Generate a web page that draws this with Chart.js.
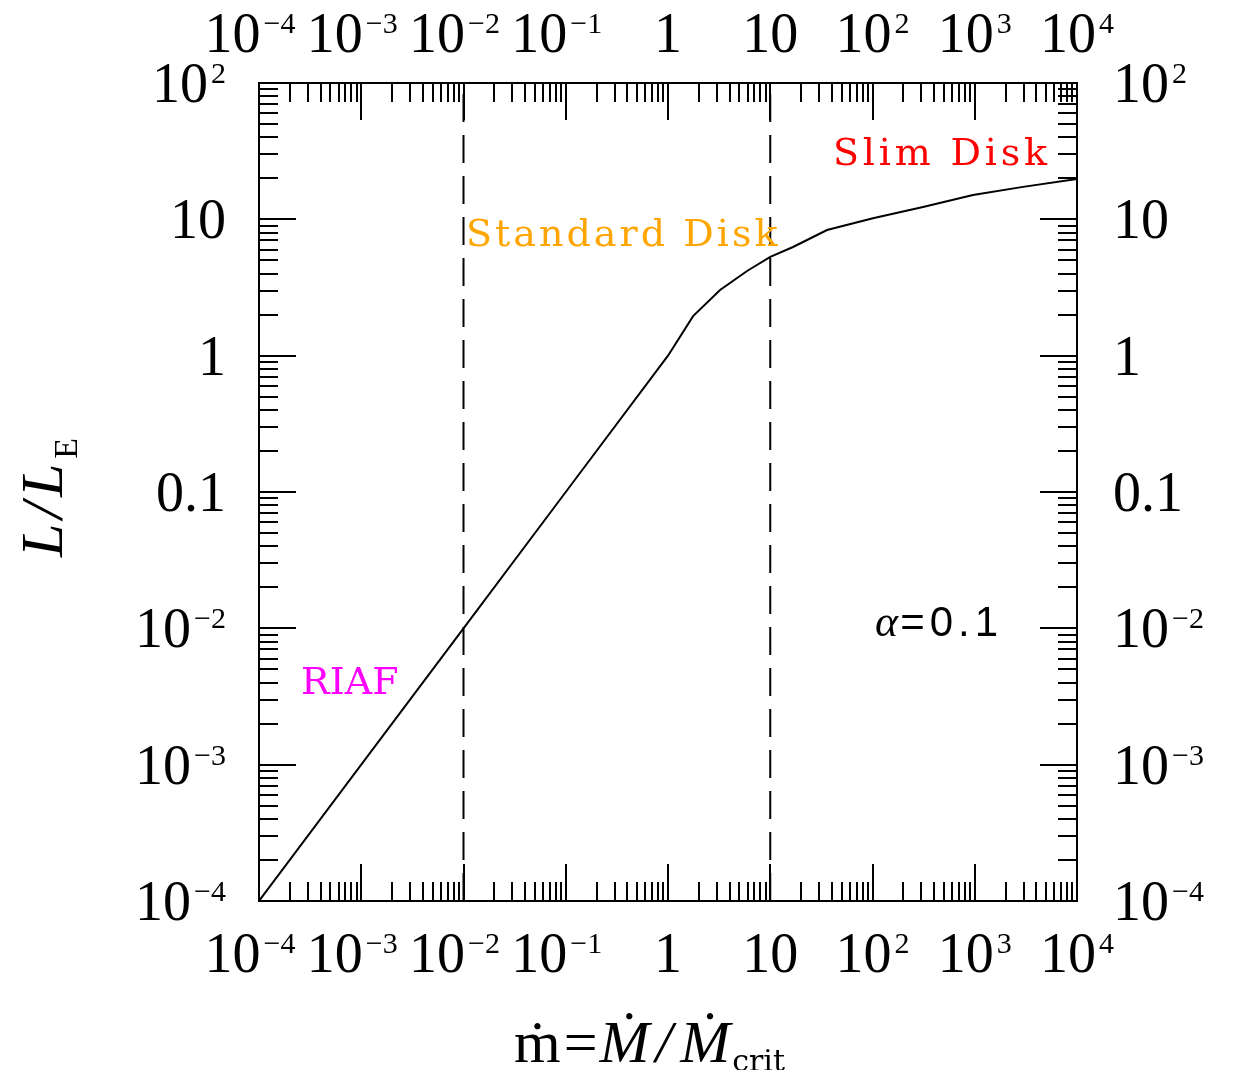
<!DOCTYPE html>
<html>
<head>
<meta charset="utf-8">
<script src="https://cdn.jsdelivr.net/npm/chart.js@4.4.0/dist/chart.umd.min.js"></script>
<style>
body { margin:0; background:#fff; }
#wrap { width:1236px; height:1070px; }
</style>
</head>
<body>
<div id="wrap"><canvas id="myChart"></canvas></div>
<script>
// accretion rate (mdot) vs luminosity
var mdot = [1e-4, 1e-3, 1e-2, 1e-1, 1, 1.76, 3.23, 5.93, 10, 16.7, 35.9, 101, 312, 961, 2965, 1e4]
var lum  = [1e-4, 1e-3, 1e-2, 1e-1, 1, 1.95, 3.03, 4.18, 5.3, 6.27, 8.35, 10.2, 12.3, 15.1, 17.3, 19.8]

// regime boundaries (dashed)
var boundaries = [1e-2, 10]

var xTicks = [1e-4, 1e-3, 1e-2, 1e-1, 1, 10, 100, 1000, 1e4]
var xTickLabels = [['10','\u22124'],['10','\u22123'],['10','\u22122'],['10','\u22121'],['1',''],['10',''],['10','2'],['10','3'],['10','4']]
var yTicks = [1e-4, 1e-3, 1e-2, 0.1, 1, 10, 100]
var yTickLabels = [['10','\u22124'],['10','\u22123'],['10','\u22122'],['0.1',''],['1',''],['10',''],['10','2']]

// region labels [text, mdot, L/LE, colour]
var notes = [
  ['RIAF', 2.64e-4, 3.3e-3, '#ff00ff'],
  ['Standard Disk', 0.0108, 6.38, '#ffa500'],
  ['Slim Disk', 42, 25, '#ff0000']
]
var alphaNote = [106, 8.8e-3]

var curve = []
for (var i = 0; i < mdot.length; i++) {
    curve.push({x: mdot[i], y: lum[i]})
}

var datasets = [{
    data: curve,
    borderColor: '#000',
    borderWidth: 2,
    pointRadius: 0,
    showLine: true,
    tension: 0
}]
for (var i = 0; i < boundaries.length; i++) {
    datasets.push({
        data: [{x: boundaries[i], y: yTicks[0]}, {x: boundaries[i], y: yTicks[yTicks.length-1]}],
        borderColor: '#000',
        borderWidth: 2,
        borderDash: [28, 13],
        pointRadius: 0,
        showLine: true
    })
}

var SERIF = '"Liberation Serif", "DejaVu Serif", serif'

// draws "10" with a raised exponent
function sci(ctx, lab, x, y, align) {
    ctx.font = '56px ' + SERIF
    var w1 = ctx.measureText(lab[0]).width
    ctx.font = '30px ' + SERIF
    var w2 = lab[1] ? ctx.measureText(lab[1]).width + 3 : 0
    var x0 = x
    if (align == 'center') {
        x0 = x - (w1 + w2) / 2
        if (lab[1].charAt(0) == '\u2212') x0 -= 9
    }
    if (align == 'right') x0 = x - w1 - w2
    ctx.textAlign = 'left'
    ctx.font = '56px ' + SERIF
    ctx.fillText(lab[0], x0, y)
    if (lab[1]) {
        ctx.font = '30px ' + SERIF
        ctx.fillText(lab[1], x0 + w1 + 3, y - 19)
    }
}

// spread text so it takes about cell px per character
function spaced(ctx, s, x, y, cell, font) {
    ctx.font = font
    ctx.letterSpacing = '0px'
    var w = ctx.measureText(s).width
    var sp = (cell * s.length - w) / s.length
    ctx.letterSpacing = Math.max(0, sp) + 'px'
    ctx.textAlign = 'left'
    ctx.fillText(s, x, y)
    ctx.letterSpacing = '0px'
    return x + w + sp * s.length
}

var frame = {
    id: 'frame',
    afterDraw: function(chart) {
        var ctx = chart.ctx, a = chart.chartArea
        var xs = chart.scales.x, ys = chart.scales.y
        ctx.save()
        ctx.strokeStyle = '#000'
        ctx.fillStyle = '#000'
        ctx.lineWidth = 2
        ctx.strokeRect(a.left, a.top, a.right - a.left, a.bottom - a.top)

        // inward log ticks on all four sides
        ctx.beginPath()
        for (var i = 0; i < xTicks.length - 1; i++) {
            for (var k = 1; k < 10; k++) {
                var px = Math.round(xs.getPixelForValue(k * xTicks[i]))
                var len = k == 1 ? 37 : 19
                ctx.moveTo(px, a.bottom); ctx.lineTo(px, a.bottom - len)
                ctx.moveTo(px, a.top); ctx.lineTo(px, a.top + len)
            }
        }
        for (var i = 0; i < yTicks.length - 1; i++) {
            for (var k = 1; k < 10; k++) {
                var py = Math.round(ys.getPixelForValue(k * yTicks[i]))
                var len = k == 1 ? 37 : 19
                ctx.moveTo(a.left, py); ctx.lineTo(a.left + len, py)
                ctx.moveTo(a.right, py); ctx.lineTo(a.right - len, py)
            }
        }
        ctx.stroke()

        ctx.textBaseline = 'alphabetic'
        for (var i = 0; i < xTicks.length; i++) {
            var px = xs.getPixelForValue(xTicks[i])
            sci(ctx, xTickLabels[i], px, a.bottom + 71, 'center')
            sci(ctx, xTickLabels[i], px, a.top - 31, 'center')
        }
        for (var i = 0; i < yTicks.length; i++) {
            var py = ys.getPixelForValue(yTicks[i])
            sci(ctx, yTickLabels[i], a.left - 33, py + 19, 'right')
            sci(ctx, yTickLabels[i], a.right + 36, py + 19, 'left')
        }

        // axis titles
        var x0 = 514, yb = 1062
        ctx.textAlign = 'left'
        ctx.font = '60px ' + SERIF
        ctx.fillText('\u1e41', x0, yb); x0 += ctx.measureText('\u1e41').width + 3
        ctx.fillText('=', x0, yb); x0 += ctx.measureText('=').width + 2
        ctx.font = 'italic 60px ' + SERIF
        ctx.fillText('\u1e40', x0, yb); x0 += ctx.measureText('\u1e40').width + 6
        ctx.fillText('/', x0, yb); x0 += ctx.measureText('/').width + 8
        ctx.fillText('\u1e40', x0, yb); x0 += ctx.measureText('\u1e40').width + 2
        spaced(ctx, 'crit', x0, yb + 9, 13, '30px "DejaVu Serif", serif')

        ctx.save()
        ctx.translate(62, 495)
        ctx.rotate(-Math.PI / 2)
        ctx.font = 'italic 60px ' + SERIF
        ctx.letterSpacing = '5px'
        var w = ctx.measureText('L/L').width
        ctx.font = '34px ' + SERIF
        var w2 = ctx.measureText('E').width
        var s = -(w + w2) / 2
        ctx.font = 'italic 60px ' + SERIF
        ctx.fillText('L/L', s, 0)
        ctx.letterSpacing = '0px'
        ctx.font = '34px ' + SERIF
        ctx.fillText('E', s + w, 15)
        ctx.restore()

        // region labels
        for (var i = 0; i < notes.length; i++) {
            ctx.fillStyle = notes[i][3]
            spaced(ctx, notes[i][0], xs.getPixelForValue(notes[i][1]) - 1, ys.getPixelForValue(notes[i][2]), 24.2, '38px "DejaVu Serif", serif')
        }
        var ax = xs.getPixelForValue(alphaNote[0]), ay = ys.getPixelForValue(alphaNote[1])
        ctx.fillStyle = '#000'
        ctx.font = 'italic 44px ' + SERIF
        ctx.fillText('\u03b1', ax, ay)
        ax += ctx.measureText('\u03b1').width + 2
        ctx.font = '42px "Liberation Sans", sans-serif'
        ctx.letterSpacing = '5px'
        ctx.fillText('=0.1', ax, ay)
        ctx.letterSpacing = '0px'
        ctx.restore()
    }
}

var ctx = document.getElementById('myChart').getContext('2d')
var myChart = new Chart(ctx, {
    type: 'scatter',
    data: { datasets: datasets },
    options: {
        responsive: true,
        maintainAspectRatio: false,
        animation: false,
        layout: { padding: { left: 259, right: 159, top: 83, bottom: 169 } },
        plugins: { legend: { display: false }, tooltip: { enabled: false } },
        scales: {
            x: { type: 'logarithmic', min: xTicks[0], max: xTicks[xTicks.length-1], display: false },
            y: { type: 'logarithmic', min: yTicks[0], max: yTicks[yTicks.length-1], display: false }
        }
    },
    plugins: [frame]
})
</script>
</body>
</html>
